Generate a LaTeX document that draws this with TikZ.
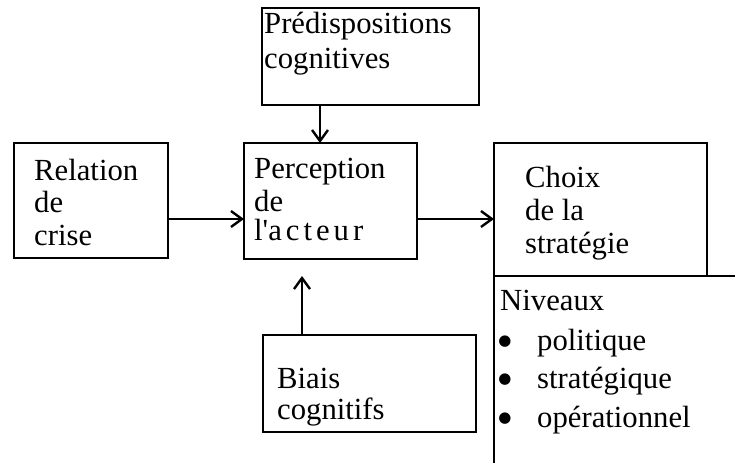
\documentclass[tikz,border=0pt]{standalone}
\usepackage{fontspec}
\setmainfont{Liberation Serif}[Ligatures=TeXOff]
\newfontfamily\dotfont{DejaVu Sans}
\usetikzlibrary{arrows.meta}
\begin{document}
\begin{tikzpicture}[x=1pt,y=-1pt,
  box/.style={draw, line width=2.4pt, rectangle, inner sep=0pt, outer sep=0pt, anchor=north west},
  lbl/.style={anchor=base west, inner sep=0pt, font=\fontsize{30.7}{33}\selectfont},
  dot/.style={anchor=center, inner sep=0pt, font=\dotfont\fontsize{15}{15}\selectfont},
  rule/.style={line width=2.4pt},
  conn/.style={line width=2.4pt, -{Straight Barb[length=11pt,width=16pt,line width=2.4pt]}}]
\useasboundingbox (0,0) rectangle (735,466);

% boxes
\node[box, minimum width=217pt, minimum height=97pt]  (pred)  at (262,8)   {};
\node[box, minimum width=154pt, minimum height=115pt] (rel)   at (14,143)  {};
\node[box, minimum width=173pt, minimum height=116pt] (perc)  at (244,143) {};
\node[box, minimum width=213pt, minimum height=133pt] (choix) at (494,143) {};
\node[box, minimum width=213pt, minimum height=97pt]  (biais) at (263,335) {};

% box texts
\node[lbl] (predA) at (264,33) {Prédispositions};
\node[lbl] (predB) at (264,68) {cognitives};
\node[lbl] (relA) at (34,180) {Relation};
\node[lbl] (relB) at (34,212) {de};
\node[lbl] (relC) at (34,245) {crise};
\node[lbl] (percA) at (254,178) {Perception};
\node[lbl] (percB) at (254,211) {de};
\node[lbl] (percC) at (254,240) {\spaceskip=4pt l'a c t e u r};
\node[lbl] (choixA) at (525,187) {Choix};
\node[lbl] (choixB) at (525,220) {de la};
\node[lbl] (choixC) at (525,253) {stratégie};
\node[lbl] (biaisA) at (277,388) {Biais};
\node[lbl] (biaisB) at (277,419) {cognitifs};

% levels list under the strategy box
\node[lbl] (niv) at (500,310) {Niveaux};
\node[dot] (b1) at (505,342) {●};
\node[dot] (b2) at (505,380) {●};
\node[dot] (b3) at (505,419) {●};
\node[lbl] (l1) at (537,350) {politique};
\node[lbl] (l2) at (537,388) {stratégique};
\node[lbl] (l3) at (537,427) {opérationnel};

% connectors
\coordinate (px) at (320,0);
\coordinate (bx) at (302,0);
\coordinate (btip) at (302,276);
\coordinate (ay) at (0,219);
\coordinate (rEnd) at (735,276);
\coordinate (lEnd) at (494,463);

\draw[conn] (px |- pred.south) -- (px |- perc.north);
\draw[conn] (bx |- biais.north) -- (btip);
\draw[conn] (ay -| rel.east) -- (ay -| perc.west);
\draw[conn] (ay -| perc.east) -- (ay -| choix.west);
\draw[rule] (choix.south east) -- (rEnd);
\draw[rule] (choix.south west) -- (lEnd);
\end{tikzpicture}
\end{document}
